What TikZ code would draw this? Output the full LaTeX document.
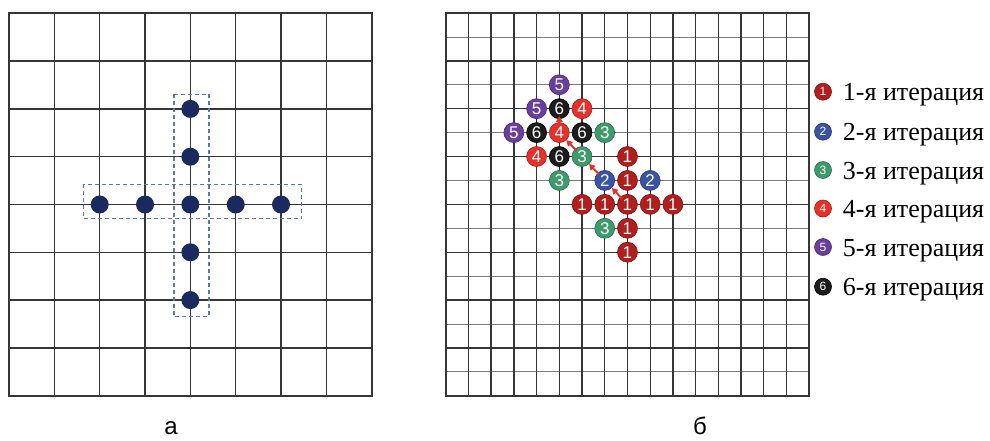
\documentclass[tikz,border=0pt]{standalone}
\usepackage{fontspec}
\setmainfont{Liberation Serif}
\newfontfamily\labfont{Liberation Sans}
\usetikzlibrary{arrows.meta}
\definecolor{gridc}{HTML}{363636}
\definecolor{gridl}{HTML}{7A7A7A}
\definecolor{navy}{HTML}{1B2A5E}
\definecolor{dashc}{HTML}{5A78B0}
\definecolor{cone}{HTML}{B01E1E}
\definecolor{ctwo}{HTML}{3B53A4}
\definecolor{cthree}{HTML}{3E9A6B}
\definecolor{cfour}{HTML}{E6302A}
\definecolor{cfive}{HTML}{6A3E9C}
\definecolor{csix}{HTML}{1C1C1C}
\definecolor{arrc}{HTML}{E8302A}
\begin{document}
\begin{tikzpicture}[x=1pt,y=-1pt,
  gline/.style={draw=gridc, line width=1.4pt},
  fline/.style={draw=gridl, line width=0.8pt},
  border/.style={draw=gridc, line width=1.8pt},
  bdot/.style={circle, fill=navy, minimum size=18pt, inner sep=0pt},
  dashbox/.style={draw=dashc, line width=1.1pt, dash pattern=on 4pt off 3pt},
  idot/.style={circle, minimum size=20pt, inner sep=0pt, text=white, font=\labfont\fontsize{17}{17}\selectfont},
  ldot/.style={circle, minimum size=17pt, inner sep=0pt, text=white, font=\labfont\fontsize{12}{12}\selectfont},
  it1/.style={fill=cone, draw=cone!70!black, line width=0.6pt},
  it2/.style={fill=ctwo, draw=ctwo!70!black, line width=0.6pt},
  it3/.style={fill=cthree, draw=cthree!70!black, line width=0.6pt},
  it4/.style={fill=cfour, draw=cfour!70!black, line width=0.6pt},
  it5/.style={fill=cfive, draw=cfive!70!black, line width=0.6pt},
  it6/.style={fill=csix, draw=black, line width=0.6pt},
  legtext/.style={anchor=base west, inner sep=0pt, font=\fontsize{26}{26}\selectfont},
  redarr/.style={draw=arrc, line width=1.9pt, -{Triangle[length=6pt,width=6.5pt]}},
  sublab/.style={anchor=base, inner sep=0pt, font=\labfont\fontsize{24}{24}\selectfont}
]
\useasboundingbox (0,0) rectangle (990,440);

% ---------- left grid ----------
\begin{scope}[shift={(9pt,-13.3pt)}, x=45.34pt, y=-47.8pt]
  \foreach \i in {1,...,7} { \draw[gline] (\i,0) -- (\i,8); }
  \foreach \j in {1,...,7} { \draw[gline] (0,\j) -- (8,\j); }
  \draw[border] (0,0) rectangle (8,8);
  % dashed frames
  \draw[dashbox] (3.64,1.69) rectangle (4.41,6.35);
  \draw[dashbox] (1.64,3.58) rectangle (6.46,4.30);
  % dots
  \node[bdot] (av2) at (4,2) {};
  \node[bdot] (av3) at (4,3) {};
  \node[bdot] (ac)  at (4,4) {};
  \node[bdot] (av5) at (4,5) {};
  \node[bdot] (av6) at (4,6) {};
  \node[bdot] (ah2) at (2,4) {};
  \node[bdot] (ah3) at (3,4) {};
  \node[bdot] (ah5) at (5,4) {};
  \node[bdot] (ah6) at (6,4) {};
\end{scope}

% ---------- right grid ----------
\begin{scope}[shift={(445.7pt,-13pt)}, x=22.72pt, y=-23.92pt]
  \foreach \j in {1,3,...,15} { \draw[fline] (0,\j) -- (16,\j); }
  \foreach \j in {2,4,...,14} { \draw[gline] (0,\j) -- (16,\j); }
  \foreach \i in {1,...,15} { \draw[gline, line width=1.3pt] (\i,0) -- (\i,16); }
  \draw[border] (0,0) rectangle (16,16);
  % iteration 1
  \node[idot,it1] (r86)  at (8,6)  {1};
  \node[idot,it1] (r87)  at (8,7)  {1};
  \node[idot,it1] (r68)  at (6,8)  {1};
  \node[idot,it1] (r78)  at (7,8)  {1};
  \node[idot,it1] (r88)  at (8,8)  {1};
  \node[idot,it1] (r98)  at (9,8)  {1};
  \node[idot,it1] (r108) at (10,8) {1};
  \node[idot,it1] (r89)  at (8,9)  {1};
  \node[idot,it1] (r810) at (8,10) {1};
  % iteration 2
  \node[idot,it2] (r77) at (7,7) {2};
  \node[idot,it2] (r97) at (9,7) {2};
  % iteration 3
  \node[idot,it3] (r75) at (7,5) {3};
  \node[idot,it3] (r66) at (6,6) {3};
  \node[idot,it3] (r57) at (5,7) {3};
  \node[idot,it3] (r79) at (7,9) {3};
  % iteration 4
  \node[idot,it4] (r64) at (6,4) {4};
  \node[idot,it4] (r55) at (5,5) {4};
  \node[idot,it4] (r46) at (4,6) {4};
  % iteration 6
  \node[idot,it6] (r54) at (5,4) {6};
  \node[idot,it6] (r45) at (4,5) {6};
  \node[idot,it6] (r65) at (6,5) {6};
  \node[idot,it6] (r56) at (5,6) {6};
  % iteration 5
  \node[idot,it5] (r53) at (5,3) {5};
  \node[idot,it5] (r44) at (4,4) {5};
  \node[idot,it5] (r35) at (3,5) {5};
\end{scope}
% arrows
\draw[redarr, shorten <=-3pt] (r88) -- (r77);
\draw[redarr, shorten <=-2pt] (r77) -- (r66);
\draw[redarr, shorten <=-2pt] (r66) -- (r55);
\draw[redarr, shorten >=-3pt] (r55) -- (r54);

% ---------- legend ----------
\node[ldot,it1] (l1) at (823,91.7)  {1};
\node[ldot,it2] (l2) at (823,131.7) {2};
\node[ldot,it3] (l3) at (823,170)   {3};
\node[ldot,it4] (l4) at (823,208.5) {4};
\node[ldot,it5] (l5) at (823,247)   {5};
\node[ldot,it6] (l6) at (823,286.7) {6};
\node[legtext] (t1) at (842.7,100.7) {1-я итерация};
\node[legtext] (t2) at (842.7,140.7) {2-я итерация};
\node[legtext] (t3) at (842.7,179)   {3-я итерация};
\node[legtext] (t4) at (842.7,217.5) {4-я итерация};
\node[legtext] (t5) at (842.7,256)   {5-я итерация};
\node[legtext] (t6) at (842.7,295.7) {6-я итерация};

% ---------- sub-labels ----------
\node[sublab] (la) at (171,434) {а};
\node[sublab] (lb) at (700,434) {б};
\end{tikzpicture}
\end{document}
